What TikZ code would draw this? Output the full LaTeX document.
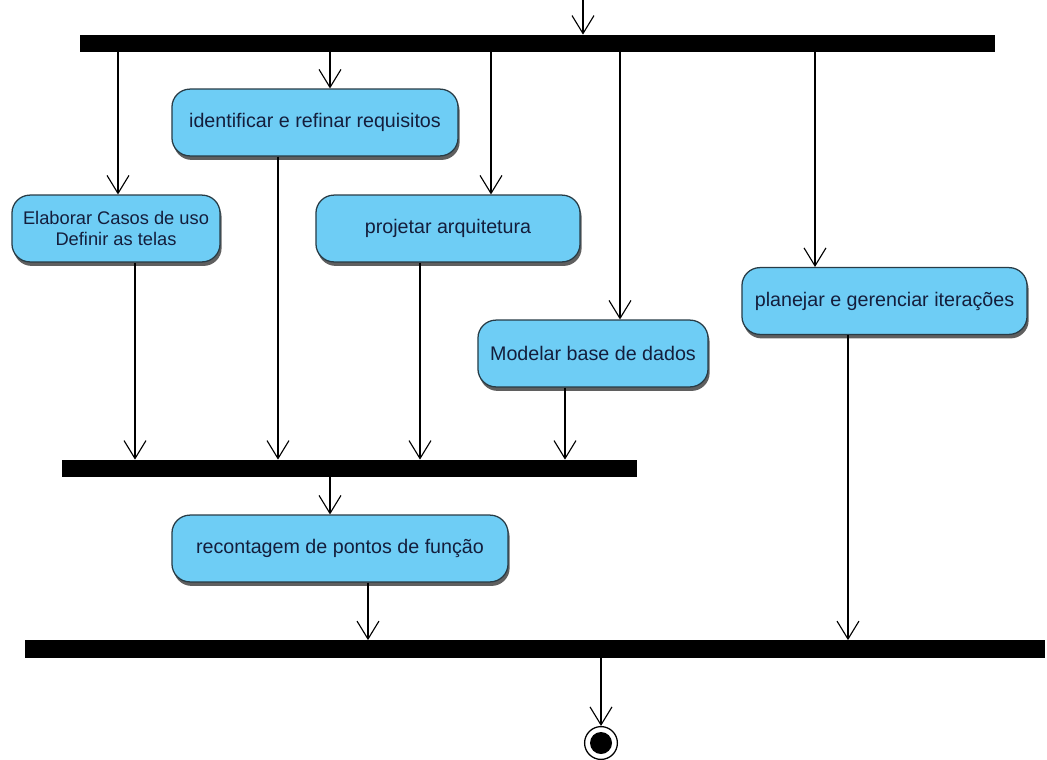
\documentclass[tikz,border=0pt]{standalone}
\usepackage{fontspec}
\setmainfont{Liberation Sans}
\usetikzlibrary{arrows.meta,shadows}
\definecolor{actfill}{RGB}{110,205,245}
\definecolor{actline}{RGB}{40,60,70}
\definecolor{acttext}{RGB}{20,30,60}
\definecolor{actshadow}{RGB}{95,95,95}

\begin{document}
\begin{tikzpicture}[x=0.025cm, y=-0.025cm,
    act/.style={rectangle, rounded corners=0.45cm, draw=actline, line width=0.9pt,
      fill=actfill, text=acttext, font=\fontsize{14}{15.5}\selectfont, align=center,
      minimum height=1.67cm,
      drop shadow={shadow xshift=0.04cm, shadow yshift=-0.1cm, fill=actshadow, opacity=1}},
    bar/.style={rectangle, fill=black, inner sep=0, minimum height=0.43cm},
    flow/.style={-{Straight Barb[length=0.45cm,width=0.55cm]}, line width=0.8pt}]
      \useasboundingbox (0,0) rectangle (1047,759);
      \node[bar, minimum width=22.875cm] (fork) at (537.5,43.5) {};
      \node[bar, minimum width=14.375cm] (join) at (349.5,468.5) {};
      \node[bar, minimum width=25.5cm] (sync) at (535,649) {};
      \node[act, minimum width=5.2cm, font=\fontsize{13}{15}\selectfont] (elab) at (116,228.5) {Elaborar Casos de uso\\Definir as telas};
      \node[act, minimum width=7.15cm] (ident) at (315,122.5) {identificar e refinar requisitos};
      \node[act, minimum width=6.6cm] (proj) at (448,228.5) {projetar arquitetura};
      \node[act, minimum width=5.75cm] (model) at (593,353.5) {Modelar base de dados};
      \node[act, minimum width=7.125cm] (plan) at (884.5,301) {planejar e gerenciar iterações};
      \node[act, minimum width=8.4cm] (recont) at (340,548.5) {recontagem de pontos de função};
      \node[circle, draw, line width=0.9pt, fill=white, minimum size=0.82cm] (fim) at (601,743) {};
      \node[circle, fill=black, minimum size=0.55cm] (fimdot) at (fim) {};
      \coordinate (start) at (583,0);
      \draw[flow] (start) -- (fork.north -| start);
      \foreach \b/\dx in {elab/2, ident/15, proj/43, model/27, plan/-69.5} {
        \coordinate (\b in) at ([shift={(\dx,0)}]\b.north);
        \draw[flow] (fork.south -| \b in) -- (\b in);
      }
      \foreach \b/\dx in {elab/19, ident/-37, proj/-28, model/-28} {
        \coordinate (\b out) at ([shift={(\dx,0)}]\b.south);
        \draw[flow] (\b out) -- (join.north -| \b out);
      }
      \coordinate (recont in) at ([shift={(-10,0)}]recont.north);
      \draw[flow] (join.south -| recont in) -- (recont in);
      \coordinate (recont out) at ([shift={(28,0)}]recont.south);
      \draw[flow] (recont out) -- (sync.north -| recont out);
      \coordinate (plan out) at ([shift={(-36.5,0)}]plan.south);
      \draw[flow] (plan out) -- (sync.north -| plan out);
      \draw[flow] (sync.south -| fim) -- (fim.north);
    \end{tikzpicture}
\end{document}
